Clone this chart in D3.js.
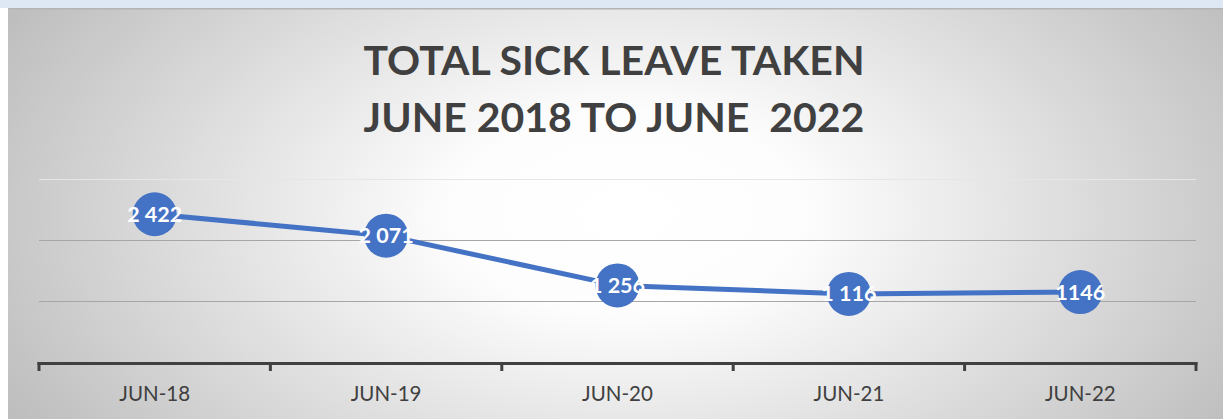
<!DOCTYPE html>
<html>
<head>
    <meta charset="utf-8">
    <script src="https://d3js.org/d3.v7.min.js"></script>
    <style>
        body { margin: 0; overflow: hidden; background: #fff; }
        svg text { font-family: Lato, "Open Sans", sans-serif; }
    </style>
</head>
<body>
    <div id="chart"></div>
    <script>
        var categories = ["JUN-18", "JUN-19", "JUN-20", "JUN-21", "JUN-22"];
        var values = [2422, 2071, 1256, 1116, 1146];
        var labels = ["2 422", "2 071", "1 256", "1 116", "1146"];
        var yTicks = [1000, 2000, 3000];
        var titleLines = ["TOTAL SICK LEAVE TAKEN", "JUNE 2018 TO JUNE  2022"];

        var width = 1223, height = 419;
        var plot = { left: 39, right: 1196, top: 179, bottom: 362 };

        var svg = d3.select("#chart").append("svg")
            .attr("width", width).attr("height", height);

        // background gradient: white centre, grey towards the sides
        var defs = svg.append("defs");
        var grad = defs.append("radialGradient").attr("id", "bg")
            .attr("cx", "0.51").attr("cy", "0.5").attr("r", "0.58")
            .attr("gradientTransform", "translate(0.51,0.5) scale(1,1.7) translate(-0.51,-0.5)");
        grad.append("stop").attr("offset", "0%").attr("stop-color", "#ffffff");
        grad.append("stop").attr("offset", "25%").attr("stop-color", "#fdfdfd");
        grad.append("stop").attr("offset", "100%").attr("stop-color", "#bebebe");

        svg.append("rect").attr("x", 0).attr("y", 0).attr("width", width).attr("height", 8)
            .attr("fill", "#dde8f4");
        svg.append("rect").attr("x", 8).attr("y", 8).attr("width", width - 8).attr("height", height - 8)
            .attr("fill", "url(#bg)");
        svg.append("rect").attr("x", 8).attr("y", 8).attr("width", width - 8).attr("height", 1.5)
            .attr("fill", "#b4b4b4");

        // title
        svg.append("g").selectAll("text").data(titleLines).enter().append("text")
            .attr("x", 614)
            .attr("y", (d, i) => 75 + i * 57)
            .attr("text-anchor", "middle")
            .attr("font-size", 41)
            .attr("font-weight", "bold")
            .attr("fill", "#404040")
            .style("white-space", "pre")
            .text(d => d);

        var x = d3.scaleBand().domain(categories).range([plot.left, plot.right]);
        var y = d3.scaleLinear().domain([0, 3000]).range([plot.bottom, plot.top]);

        // gridlines
        svg.append("g").selectAll("line").data(yTicks).enter().append("line")
            .attr("x1", plot.left).attr("x2", plot.right)
            .attr("y1", d => Math.round(y(d)) + 0.5).attr("y2", d => Math.round(y(d)) + 0.5)
            .attr("stroke", d => d === 3000 ? "#e6e6e6" : "#a6a6a6")
            .attr("stroke-width", 1.2);

        // x axis
        var xAxis = svg.append("g").attr("transform", `translate(0,${plot.bottom})`);
        xAxis.append("line")
            .attr("x1", plot.left - 1.5).attr("x2", plot.right + 1.5)
            .attr("y1", 1.5).attr("y2", 1.5)
            .attr("stroke", "#404040").attr("stroke-width", 3);
        var tickXs = categories.map(c => x(c)).concat([plot.right]);
        xAxis.selectAll(".tick").data(tickXs).enter().append("line")
            .attr("x1", d => d).attr("x2", d => d)
            .attr("y1", 0).attr("y2", 9)
            .attr("stroke", "#404040").attr("stroke-width", 3);
        xAxis.selectAll(".lbl").data(categories).enter().append("text")
            .attr("x", d => x(d) + x.bandwidth() / 2)
            .attr("y", 38.5)
            .attr("text-anchor", "middle")
            .attr("font-size", 20.5)
            .attr("fill", "#404040")
            .text(d => d);

        // line
        var pts = categories.map((c, i) => [x(c) + x.bandwidth() / 2, y(values[i])]);
        svg.append("path")
            .attr("d", d3.line()(pts))
            .attr("fill", "none")
            .attr("stroke", "#4472c4")
            .attr("stroke-width", 5)
            .attr("stroke-linejoin", "round");

        svg.append("g").selectAll("circle").data(pts).enter().append("circle")
            .attr("cx", d => d[0]).attr("cy", d => d[1])
            .attr("r", 22)
            .attr("fill", "#4472c4");

        svg.append("g").selectAll("text").data(pts).enter().append("text")
            .attr("x", d => d[0]).attr("y", d => d[1] + 7.5)
            .attr("text-anchor", "middle")
            .attr("font-size", 21.5)
            .attr("font-weight", "bold")
            .attr("fill", "#ffffff")
            .text((d, i) => labels[i]);
    </script>
</body>
</html>
